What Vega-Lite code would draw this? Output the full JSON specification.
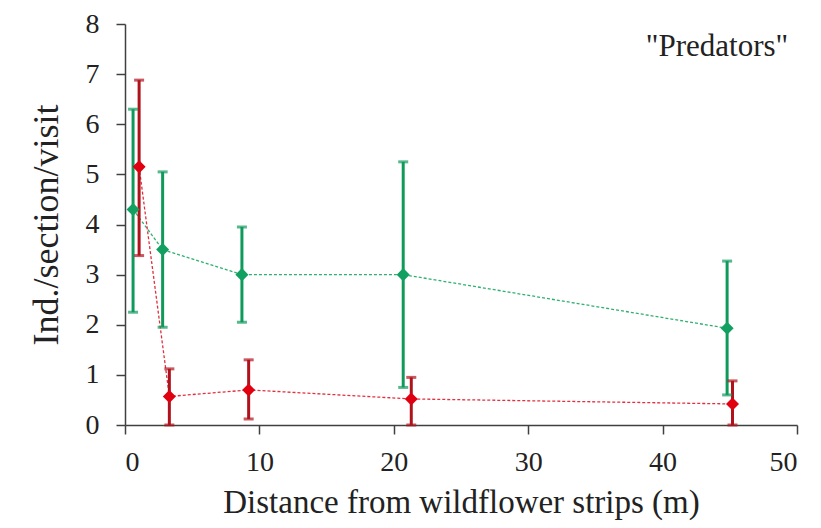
{
  "$schema": "https://vega.github.io/schema/vega-lite/v6.json",
  "autosize": {"type": "none"},
  "padding": {"left": 125, "top": 24, "right": 24, "bottom": 103},
  "width": 672,
  "height": 401,
  "background": "white",
  "config": {
    "view": {"stroke": null},
    "font": "Liberation Serif",
    "axis": {"grid": false}
  },
  "datasets": {
    "pts": [
      {"group": "A", "x": 0.6, "y": 4.3, "lo": 2.25, "hi": 6.3},
      {"group": "A", "x": 2.8, "y": 3.5, "lo": 1.95, "hi": 5.05},
      {"group": "A", "x": 8.7, "y": 3.0, "lo": 2.05, "hi": 3.95},
      {"group": "A", "x": 20.7, "y": 3.0, "lo": 0.75, "hi": 5.25},
      {"group": "A", "x": 44.8, "y": 1.93, "lo": 0.6, "hi": 3.27},
      {"group": "B", "x": 1.05, "y": 5.15, "lo": 3.38, "hi": 6.88},
      {"group": "B", "x": 3.3, "y": 0.57, "lo": 0.0, "hi": 1.12},
      {"group": "B", "x": 9.2, "y": 0.7, "lo": 0.12, "hi": 1.3},
      {"group": "B", "x": 21.3, "y": 0.52, "lo": 0.0, "hi": 0.95},
      {"group": "B", "x": 45.2, "y": 0.42, "lo": 0.0, "hi": 0.88}
    ],
    "label": [{"x": 44.05, "y": 7.54, "t": "\"Predators\""}]
  },
  "layer": [
    {
      "data": {"name": "pts"},
      "mark": {"type": "line", "strokeDash": [3, 2], "strokeWidth": 1.3},
      "encoding": {
        "x": {"field": "x", "type": "quantitative", "scale": {"domain": [0, 50], "nice": false}, "axis": {"values": [0, 10, 20, 30, 40, 50], "title": "Distance from wildflower strips (m)", "titleFont": "Liberation Serif", "titleFontSize": 33, "titleFontWeight": "normal", "titleColor": "#222", "labelFont": "Liberation Serif", "labelFontSize": 28, "labelColor": "#222", "labelPadding": 14, "titlePadding": 10, "domainColor": "#404040", "tickColor": "#404040", "tickSize": 9, "domainWidth": 1.5, "tickWidth": 1.5}},
        "y": {"field": "y", "type": "quantitative", "scale": {"domain": [0, 8], "nice": false}, "axis": {"values": [0, 1, 2, 3, 4, 5, 6, 7, 8], "title": "Ind./section/visit", "titleFont": "Liberation Serif", "titleFontSize": 36, "titleFontWeight": "normal", "titleColor": "#222", "labelFont": "Liberation Serif", "labelFontSize": 28, "labelColor": "#222", "labelPadding": 17, "titlePadding": 20, "domainColor": "#404040", "tickColor": "#404040", "tickSize": 9, "domainWidth": 1.5, "tickWidth": 1.5}},
        "color": {"field": "group", "type": "nominal", "scale": {"domain": ["A", "B"], "range": ["#2fb070", "#e03040"]}, "legend": null}
      }
    },
    {
      "data": {"name": "pts"},
      "mark": {"type": "rule", "strokeWidth": 3},
      "encoding": {
        "x": {"field": "x", "type": "quantitative"},
        "y": {"field": "lo", "type": "quantitative"},
        "y2": {"field": "hi"},
        "color": {"field": "group", "type": "nominal", "scale": {"domain": ["A", "B"], "range": ["#0f9a5c", "#b0121c"]}, "legend": null}
      }
    },
    {
      "data": {"name": "pts"},
      "mark": {"type": "tick", "orient": "horizontal", "size": 10, "thickness": 3},
      "encoding": {
        "x": {"field": "x", "type": "quantitative"},
        "y": {"field": "hi", "type": "quantitative"},
        "color": {"field": "group", "type": "nominal", "scale": {"domain": ["A", "B"], "range": ["#0f9a5c", "#b0121c"]}, "legend": null}
      }
    },
    {
      "data": {"name": "pts"},
      "mark": {"type": "tick", "orient": "horizontal", "size": 10, "thickness": 3},
      "encoding": {
        "x": {"field": "x", "type": "quantitative"},
        "y": {"field": "lo", "type": "quantitative"},
        "color": {"field": "group", "type": "nominal", "scale": {"domain": ["A", "B"], "range": ["#0f9a5c", "#b0121c"]}, "legend": null}
      }
    },
    {
      "data": {"name": "pts"},
      "mark": {"type": "point", "shape": "diamond", "filled": true, "size": 170, "opacity": 1},
      "encoding": {
        "x": {"field": "x", "type": "quantitative"},
        "y": {"field": "y", "type": "quantitative"},
        "color": {"field": "group", "type": "nominal", "scale": {"domain": ["A", "B"], "range": ["#12a060", "#e00010"]}, "legend": null}
      }
    },
    {
      "data": {"name": "label"},
      "mark": {"type": "text", "fontSize": 31, "font": "Liberation Serif", "color": "#222"},
      "encoding": {
        "x": {"field": "x", "type": "quantitative"},
        "y": {"field": "y", "type": "quantitative"},
        "text": {"field": "t"}
      }
    }
  ],
  "resolve": {"scale": {"color": "independent"}}
}
